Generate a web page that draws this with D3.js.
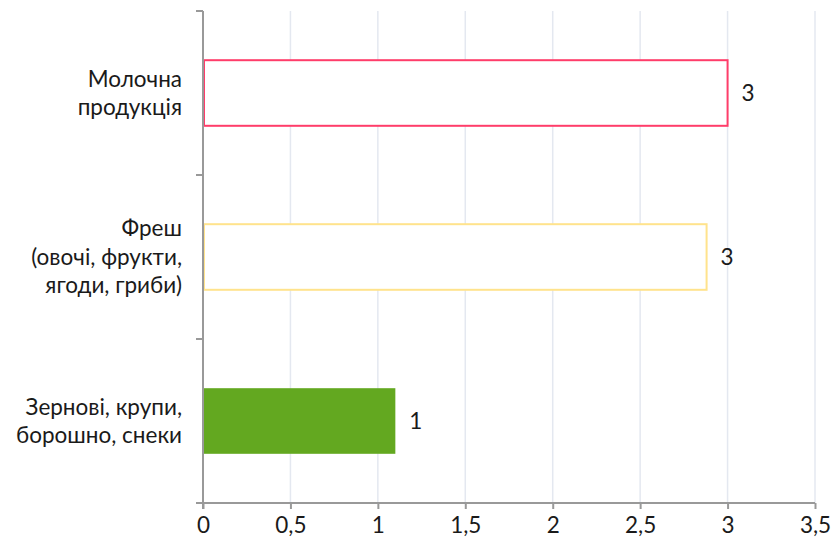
<!DOCTYPE html>
<html><head><meta charset="utf-8">
<script src="https://cdn.jsdelivr.net/npm/d3@7"></script>
<style>body{margin:0;background:#fff}svg{display:block}text{font-family:Lato,sans-serif;fill:#1a1a1a}</style>
</head><body><svg id="c" width="833" height="545"></svg>
<script>
const categories = [["Молочна","продукція"],["Фреш","(овочі, фрукти,","ягоди, гриби)"],["Зернові, крупи,","борошно, снеки"]];
const values = [3.0, 2.88, 1.1];
const valueLabels = ["3","3","1"];
const xTicks = [0,0.5,1,1.5,2,2.5,3,3.5];
const strokes = ["#ff3d6a","#ffe38c",null];
const fills = ["#ffffff","#ffffff","#63a820"];

const svg = d3.select("#c");
const m = {l:203, r:18, t:11, b:42};
const W = 833, H = 545;
const x = d3.scaleLinear().domain([0,3.5]).range([m.l, W-m.r]);
const y = d3.scaleBand().domain(d3.range(categories.length)).range([m.t, H-m.b]).paddingInner(0.6).paddingOuter(0.3);

// gridlines
svg.append("g").selectAll("line").data(xTicks.slice(1)).join("line")
  .attr("x1",d=>x(d)).attr("x2",d=>x(d)).attr("y1",m.t).attr("y2",H-m.b)
  .attr("stroke","#e4e8f0").attr("stroke-width",1.5);

// bars
svg.append("g").selectAll("rect").data(values).join("rect")
  .attr("x",x(0)+1).attr("y",(d,i)=>y(i)).attr("width",d=>x(d)-x(0)-1).attr("height",y.bandwidth())
  .attr("fill",(d,i)=>fills[i]).attr("stroke",(d,i)=>strokes[i]||"none").attr("stroke-width",2);

// value labels
svg.append("g").selectAll("text").data(values).join("text")
  .attr("x",d=>x(d)+14).attr("y",(d,i)=>y(i)+y.bandwidth()/2).attr("dy","0.35em")
  .attr("font-size",22.5).text((d,i)=>valueLabels[i]);

// x axis
const xa = svg.append("g").attr("transform",`translate(0,${H-m.b})`)
  .call(d3.axisBottom(x).tickValues(xTicks).tickSize(6).tickPadding(8).tickFormat(d=>String(d).replace(".",",")));
xa.select(".domain").attr("stroke","#999").attr("stroke-width",2).attr("d",`M${x(0)-7},0H${x(3.5)}`);
xa.selectAll(".tick line").attr("stroke","#999").attr("stroke-width",2);
xa.selectAll(".tick text").attr("font-size",22.5).attr("font-family","Lato,sans-serif").attr("fill","#1a1a1a");

// y axis
const step = (H-m.b-m.t)/categories.length;
const ya = svg.append("g");
ya.append("line").attr("x1",x(0)).attr("x2",x(0)).attr("y1",m.t).attr("y2",H-m.b+6).attr("stroke","#999").attr("stroke-width",2);
ya.selectAll(".yt").data(d3.range(categories.length)).join("line").attr("class","yt")
  .attr("x1",x(0)-7).attr("x2",x(0)).attr("y1",i=>m.t+i*step).attr("y2",i=>m.t+i*step)
  .attr("stroke","#999").attr("stroke-width",2);

// category labels
const lh = 28.5;
const lbl = svg.append("g").selectAll("text").data(categories).join("text")
  .attr("text-anchor","end").attr("font-size",22.5)
  .attr("transform",(d,i)=>`translate(${x(0)-21},${y(i)+y.bandwidth()/2 - (d.length-1)*lh/2})`);
lbl.each(function(d){
  d3.select(this).selectAll("tspan").data(d).join("tspan")
    .attr("x",0).attr("y",(t,j)=>j*lh).attr("dy","0.35em").text(t=>t);
});
</script></body></html>
